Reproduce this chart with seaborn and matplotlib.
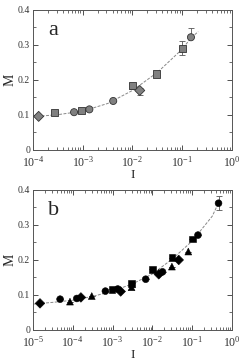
import numpy as np
import pandas as pd
import matplotlib
matplotlib.use('Agg')
import matplotlib.pyplot as plt
import seaborn as sns
from matplotlib.ticker import LogLocator, MultipleLocator, FuncFormatter, LogFormatterSciNotation, NullFormatter

# Panel a data
I_a = [1.3e-4, 2.75e-4, 6.7e-4, 9.6e-4, 1.36e-3, 4.1e-3, 1.0e-2, 1.4e-2, 3.0e-2, 0.1, 0.15]
M_a = [0.096, 0.108, 0.108, 0.114, 0.116, 0.140, 0.183, 0.170, 0.217, 0.290, 0.322]
shape_a = ['diamond', 'square', 'circle', 'square', 'circle', 'circle', 'square', 'diamond', 'square', 'square', 'circle']
err_lo_a = [0, 0, 0, 0, 0, 0, 0.008, 0.012, 0, 0.02, 0.0]
err_hi_a = [0, 0, 0, 0, 0, 0, 0.008, 0.008, 0, 0.022, 0.026]
fit_I_a = [1e-4, 3.2e-4, 1e-3, 3.2e-3, 1e-2, 3.2e-2, 0.1, 0.15, 0.21]
fit_M_a = [0.095, 0.101, 0.111, 0.133, 0.170, 0.222, 0.288, 0.320, 0.338]

# Panel b data
I_b = [1.5e-5, 4.8e-5, 8.5e-5, 1.26e-4, 1.6e-4, 3.0e-4, 6.6e-4, 9.7e-4, 1.35e-3, 1.6e-3,
       3.0e-3, 3.0e-3, 6.8e-3, 1.0e-2, 1.45e-2, 1.8e-2, 3.1e-2, 3.1e-2, 4.6e-2, 8.0e-2,
       0.1, 0.14, 0.46]
M_b = [0.076, 0.088, 0.081, 0.090, 0.093, 0.097, 0.111, 0.116, 0.117, 0.110,
       0.133, 0.122, 0.145, 0.173, 0.159, 0.166, 0.207, 0.181, 0.200, 0.224,
       0.260, 0.271, 0.362]
shape_b = ['diamond', 'circle', 'triangle', 'circle', 'diamond', 'triangle', 'circle', 'square', 'circle', 'diamond',
           'square', 'triangle', 'circle', 'square', 'diamond', 'circle', 'square', 'triangle', 'diamond', 'triangle',
           'square', 'circle', 'circle']
err_b = [0] * 22 + [0.02]
fit_I_b = [1e-5, 3.2e-5, 1e-4, 3.2e-4, 1e-3, 3.2e-3, 1e-2, 3.2e-2, 0.1, 0.32, 0.5]
fit_M_b = [0.074, 0.079, 0.085, 0.096, 0.111, 0.132, 0.160, 0.203, 0.254, 0.325, 0.372]

marker_map = {'circle': 'o', 'square': 's', 'diamond': 'D', 'triangle': '^'}

sns.set_style('ticks')
plt.rcParams['font.family'] = ['Liberation Serif', 'DejaVu Serif']
plt.rcParams['mathtext.fontset'] = 'stix'

fig = plt.figure(figsize=(2.49, 3.61), dpi=100)
ax_a = fig.add_axes([0.1325, 0.5845, 0.799, 0.388])
ax_b = fig.add_axes([0.1325, 0.0859, 0.799, 0.388])


def style_axis(ax, xmin, label):
    ax.set_xscale('log')
    ax.set_xlim(xmin, 1)
    ax.set_ylim(0, 0.4)
    ax.xaxis.set_major_locator(LogLocator(base=10, numticks=10))
    ax.xaxis.set_minor_locator(LogLocator(base=10, subs=np.arange(2, 10), numticks=20))
    ax.xaxis.set_major_formatter(LogFormatterSciNotation())
    ax.xaxis.set_minor_formatter(NullFormatter())
    ax.yaxis.set_major_locator(MultipleLocator(0.1))
    ax.yaxis.set_minor_locator(MultipleLocator(0.05))
    ax.yaxis.set_major_formatter(FuncFormatter(lambda v, p: '0' if abs(v) < 1e-9 else f'{v:.1f}'))
    ax.tick_params(which='both', direction='in', top=True, right=True, colors='#333333')
    ax.tick_params(which='major', length=3.5, width=0.6)
    ax.tick_params(which='minor', length=2, width=0.5)
    ax.tick_params(axis='x', labelsize=8.5, pad=3.5)
    ax.tick_params(axis='y', labelsize=7, pad=2)
    for s in ax.spines.values():
        s.set_color('#555555')
        s.set_linewidth(0.7)
    ax.set_xlabel('I', fontsize=9.5, labelpad=0)
    ax.set_ylabel('M', fontsize=10, labelpad=1)
    ax.text(0.075, 0.85, label, transform=ax.transAxes, fontsize=16, va='center', ha='left')


# Panel a
df_a = pd.DataFrame({'I': I_a, 'M': M_a, 'shape': shape_a})
ax_a.plot(fit_I_a, fit_M_a, color='#888888', lw=0.7, ls=(0, (3, 1.5)), zorder=1)
ax_a.errorbar(I_a, M_a, yerr=[err_lo_a, err_hi_a], fmt='none', ecolor='#555555',
              elinewidth=0.6, capsize=2, capthick=0.6, zorder=2)
sns.scatterplot(data=df_a, x='I', y='M', style='shape', markers=marker_map, color='#808080',
                edgecolor='#333333', linewidth=0.6, s=26, legend=False, ax=ax_a, zorder=3)
style_axis(ax_a, 1e-4, 'a')

# Panel b
df_b = pd.DataFrame({'I': I_b, 'M': M_b, 'shape': shape_b})
ax_b.plot(fit_I_b, fit_M_b, color='#888888', lw=0.7, ls=(0, (3, 1.5)), zorder=1)
ax_b.errorbar(I_b, M_b, yerr=err_b, fmt='none', ecolor='#555555',
              elinewidth=0.6, capsize=2, capthick=0.6, zorder=2)
sns.scatterplot(data=df_b, x='I', y='M', style='shape', markers=marker_map, color='black',
                edgecolor='black', linewidth=0.4, s=24, legend=False, ax=ax_b, zorder=3)
style_axis(ax_b, 1e-5, 'b')

fig.savefig('out.png', dpi=100)
